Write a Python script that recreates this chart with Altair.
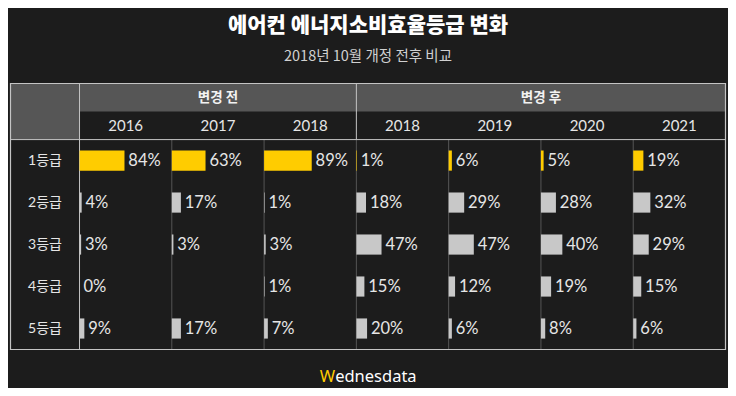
import altair as alt
import pandas as pd

# ---- data ----
title_text = "에어컨 에너지소비효율등급 변화"
subtitle_text = "2018년 10월 개정 전후 비교"
groups = ["변경 전", "변경 후"]
group_sizes = [3, 4]
years = ["2016", "2017", "2018", "2018", "2019", "2020", "2021"]
grades = ["1등급", "2등급", "3등급", "4등급", "5등급"]
v2016 = [84, 4, 3, 0, 9]
v2017 = [63, 17, 3, None, 17]
v2018_before = [89, 1, 3, 1, 7]
v2018_after = [1, 18, 47, 15, 20]
v2019 = [6, 29, 47, 12, 6]
v2020 = [5, 28, 40, 19, 8]
v2021 = [19, 32, 29, 15, 6]
brand_first = "W"
brand_rest = "ednesdata"

columns = [v2016, v2017, v2018_before, v2018_after, v2019, v2020, v2021]

# ---- layout constants (in table units: 1 column / 1 row) ----
NCOL = len(years)
NROW = len(grades)
LABEL_W = 0.748
HEAD_H = 0.668
BAR_SCALE = 0.0058
BAR_HALF = 0.24
GAP = 0.042

BG = "#1c1c1c"
HEAD_BG = "#565656"
LIGHT = "#c4c4c4"
DARK = "#555555"
TXT = "#e6e6e6"
YELLOW = "#ffcc00"
GREYBAR = "#c8c8c8"
LATIN = "Lato, 'Noto Sans CJK KR', sans-serif"
KR = "'Noto Sans CJK KR', sans-serif"

xs = alt.Scale(domain=[-LABEL_W, NCOL], nice=False, zero=False)
ys = alt.Scale(domain=[-2 * HEAD_H, NROW], nice=False, zero=False, reverse=True)

# cells
rows = []
for c, vals in enumerate(columns):
    for r, v in enumerate(vals):
        if v is None:
            continue
        rows.append({"col": c, "row": r, "value": v,
                     "kind": "top" if r == 0 else "other"})
cells = pd.DataFrame(rows)
cells["x0"] = cells["col"]
cells["x1"] = cells["col"] + cells["value"] * BAR_SCALE
cells["xt"] = cells["x1"] + GAP
cells["yc"] = cells["row"] + 0.5
cells["y0"] = cells["yc"] - BAR_HALF
cells["y1"] = cells["yc"] + BAR_HALF
cells["label"] = cells["value"].astype(int).astype(str) + "%"

bars = alt.Chart(cells).mark_rect().encode(
    x=alt.X("x0:Q", scale=xs, axis=None),
    x2="x1:Q",
    y=alt.Y("y0:Q", scale=ys, axis=None),
    y2="y1:Q",
    color=alt.condition("datum.kind == 'top'", alt.value(YELLOW), alt.value(GREYBAR)),
)
labels = alt.Chart(cells).mark_text(align="left", baseline="middle", fontSize=16.5, font=LATIN, color=TXT).encode(
    x=alt.X("xt:Q", scale=xs, axis=None),
    y=alt.Y("yc:Q", scale=ys, axis=None),
    text="label:N",
)

# header backgrounds
head = pd.DataFrame([
    {"x0": -LABEL_W, "x1": 0, "y0": -2 * HEAD_H, "y1": 0},
    {"x0": 0, "x1": NCOL, "y0": -2 * HEAD_H, "y1": -HEAD_H},
])
head_rects = alt.Chart(head).mark_rect(color=HEAD_BG).encode(
    x=alt.X("x0:Q", scale=xs, axis=None), x2="x1:Q",
    y=alt.Y("y0:Q", scale=ys, axis=None), y2="y1:Q",
)

# group headers
gstart = 0
grows = []
for g, n in zip(groups, group_sizes):
    grows.append({"group": g, "xc": gstart + n / 2, "yc": -1.5 * HEAD_H})
    gstart += n
gdf = pd.DataFrame(grows)
group_text = alt.Chart(gdf).mark_text(fontSize=13.5, fontWeight="bold", font=KR, color="#f2f2f2", baseline="middle").encode(
    x=alt.X("xc:Q", scale=xs, axis=None), y=alt.Y("yc:Q", scale=ys, axis=None), text="group:N",
)

# year headers
ydf = pd.DataFrame({"year": years, "xc": [i + 0.5 for i in range(NCOL)], "yc": -0.5 * HEAD_H})
year_text = alt.Chart(ydf).mark_text(fontSize=15, font=LATIN, color=TXT, baseline="middle").encode(
    x=alt.X("xc:Q", scale=xs, axis=None), y=alt.Y("yc:Q", scale=ys, axis=None), text="year:N",
)

# grade labels
rdf = pd.DataFrame({"grade": grades, "xc": -LABEL_W / 2, "yc": [i + 0.5 for i in range(NROW)]})
grade_text = alt.Chart(rdf).mark_text(fontSize=14, font=LATIN, color=TXT, baseline="middle").encode(
    x=alt.X("xc:Q", scale=xs, axis=None), y=alt.Y("yc:Q", scale=ys, axis=None), text="grade:N",
)

# grid lines
lines = []
for c in range(1, NCOL):
    lines.append({"x0": c, "x1": c, "y0": 0, "y1": NROW, "tone": "dark"})
lines.append({"x0": 0, "x1": 0, "y0": -2 * HEAD_H, "y1": NROW, "tone": "light"})
lines.append({"x0": group_sizes[0], "x1": group_sizes[0], "y0": -2 * HEAD_H, "y1": 0, "tone": "light"})
lines.append({"x0": -LABEL_W, "x1": NCOL, "y0": 0, "y1": 0, "tone": "light"})
ldf = pd.DataFrame(lines)
rules = alt.Chart(ldf).mark_rule(strokeWidth=1).encode(
    x=alt.X("x0:Q", scale=xs, axis=None), x2="x1:Q",
    y=alt.Y("y0:Q", scale=ys, axis=None), y2="y1:Q",
    color=alt.condition("datum.tone == 'light'", alt.value(LIGHT), alt.value(DARK)),
)

border = alt.Chart(pd.DataFrame([{"x0": -LABEL_W, "x1": NCOL, "y0": -2 * HEAD_H, "y1": NROW}])).mark_rect(
    fill=None, stroke=LIGHT, strokeWidth=1.2).encode(
    x=alt.X("x0:Q", scale=xs, axis=None), x2="x1:Q",
    y=alt.Y("y0:Q", scale=ys, axis=None), y2="y1:Q",
)

# brand
bdf = pd.DataFrame([{"first": brand_first, "rest": brand_rest, "xc": 2.77, "yc": 5.66}])
brand_w = alt.Chart(bdf).mark_text(align="right", baseline="middle", fontSize=16.5, font="'Noto Sans', sans-serif", color=YELLOW).encode(
    x=alt.X("xc:Q", scale=xs, axis=None), y=alt.Y("yc:Q", scale=ys, axis=None), text="first:N",
)
brand_rest_t = alt.Chart(bdf).mark_text(align="left", baseline="middle", fontSize=16.5, font="'Noto Sans', sans-serif", color="#ffffff").encode(
    x=alt.X("xc:Q", scale=xs, axis=None), y=alt.Y("yc:Q", scale=ys, axis=None), text="rest:N",
)

chart = alt.layer(
    head_rects, rules, border, bars, labels, group_text, year_text, grade_text, brand_w, brand_rest_t
).properties(
    width=715,
    height=266,
    autosize=alt.AutoSizeParams(type="none"),
    padding={"left": 2.5, "top": 75.5, "right": 2.5, "bottom": 38.5},
    title=alt.TitleParams(
        text=title_text,
        subtitle=subtitle_text,
        anchor="middle",
        font=KR,
        fontSize=21,
        fontWeight=900,
        color="#ffffff",
        subtitleFont=KR,
        subtitleFontSize=14.5,
        subtitleColor="#d0d0d0",
        subtitlePadding=14,
        offset=19,
    ),
).configure(background=BG).configure_view(stroke=None)

chart.save("out.html", embed_options={"renderer": "svg", "actions": False})
